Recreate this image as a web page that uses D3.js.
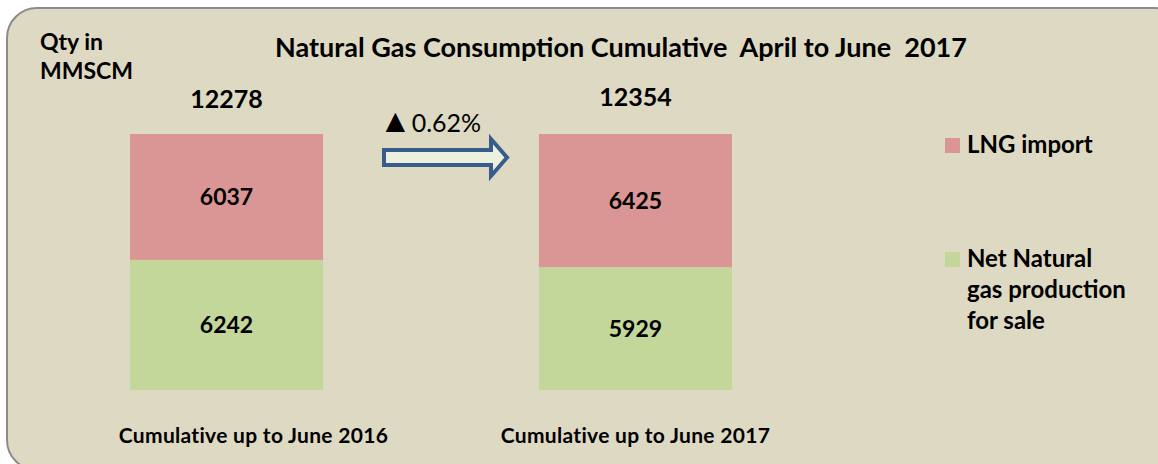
<!DOCTYPE html>
<html>
<head>
<meta charset="utf-8">
<script src="https://cdn.jsdelivr.net/npm/d3@7"></script>
<style>
  html, body { margin: 0; padding: 0; background: #fff; overflow: hidden; }
  svg text { font-family: Lato, "Open Sans", sans-serif; font-weight: bold; fill: #000; }
</style>
</head>
<body>
<svg id="chart" width="1158" height="464"></svg>
<script>
// data
const categories = ['Cumulative up to June 2016', 'Cumulative up to June 2017'];
const seriesNames = ['Net Natural gas production for sale', 'LNG import'];
const production = [6242, 5929];
const lngImport = [6037, 6425];
const totals = [12278, 12354];
const growthLabel = '0.62%';
const title = 'Natural Gas Consumption Cumulative  April to June  2017';
const colors = ['#c4d79b', '#da9694'];

const w = 1158, h = 464;
const svg = d3.select('#chart');

// panel background
svg.append('rect')
  .attr('x', 7).attr('y', 8)
  .attr('width', w + 20).attr('height', 462)
  .attr('rx', 30).attr('ry', 30)
  .attr('fill', '#ddd9c3')
  .attr('stroke', '#8c8c8c')
  .attr('stroke-width', 2);

// stack rows
const rows = categories.map((c, i) => ({ cat: c, prod: production[i], lng: lngImport[i] }));
const stack = d3.stack().keys(['prod', 'lng']).offset(d3.stackOffsetExpand);
const layers = stack(rows);

const x = d3.scaleBand().domain(categories).range([130, 732]).paddingInner(0.528).paddingOuter(0);
const y = d3.scaleLinear().domain([0, 1]).range([390, 134]);

const g = svg.append('g');
g.selectAll('g.layer')
  .data(layers)
  .enter().append('g')
  .attr('class', 'layer')
  .attr('fill', (d, i) => colors[i])
  .selectAll('rect')
  .data(d => d)
  .enter().append('rect')
  .attr('x', d => x(d.data.cat))
  .attr('y', d => y(d[1]))
  .attr('width', x.bandwidth())
  .attr('height', d => y(d[0]) - y(d[1]));

// segment labels
layers.forEach((layer, li) => {
  g.selectAll(null)
    .data(layer)
    .enter().append('text')
    .attr('x', d => x(d.data.cat) + x.bandwidth() / 2)
    .attr('y', d => (y(d[0]) + y(d[1])) / 2 + 8)
    .attr('text-anchor', 'middle')
    .style('font-size', '23px')
    .text(d => li === 0 ? d.data.prod : d.data.lng);
});

// totals
g.selectAll('text.total')
  .data(categories)
  .enter().append('text')
  .attr('class', 'total')
  .attr('x', d => x(d) + x.bandwidth() / 2)
  .attr('y', (d, i) => 108 - i * 2)
  .attr('text-anchor', 'middle')
  .style('font-size', '25px')
  .text((d, i) => totals[i]);

// category labels
g.selectAll('text.cat')
  .data(categories)
  .enter().append('text')
  .attr('class', 'cat')
  .attr('x', (d, i) => x(d) + x.bandwidth() / 2 + (i === 0 ? 27 : 0))
  .attr('y', 443)
  .attr('text-anchor', 'middle')
  .style('font-size', '21px')
  .style('letter-spacing', '0.3px')
  .text(d => d);

// title + unit
svg.append('text')
  .attr('x', 621).attr('y', 57)
  .attr('text-anchor', 'middle')
  .style('font-size', '27px')
  .style('white-space', 'pre')
  .text(title);

svg.append('text').attr('x', 40).attr('y', 50).style('font-size', '23px').text('Qty in');
svg.append('text').attr('x', 40).attr('y', 79).style('font-size', '23px').text('MMSCM');

// growth arrow
const ax0 = 384, ax1 = 507, ay = 157.5;
const arrow = d3.path();
arrow.moveTo(ax0, ay - 7.5);
arrow.lineTo(ax1 - 16, ay - 7.5);
arrow.lineTo(ax1 - 16, ay - 18.5);
arrow.lineTo(ax1, ay);
arrow.lineTo(ax1 - 16, ay + 18.5);
arrow.lineTo(ax1 - 16, ay + 7.5);
arrow.lineTo(ax0, ay + 7.5);
arrow.closePath();
svg.append('path')
  .attr('d', arrow.toString())
  .attr('fill', '#ebf1de')
  .attr('stroke', '#385d8a')
  .attr('stroke-width', 4)
  .attr('stroke-linejoin', 'miter');

const growth = svg.append('text')
  .attr('x', 379).attr('y', 132)
  .style('font-weight', 'normal');
growth.append('tspan').style('font-size', '33px').text('\u25B2');
growth.append('tspan').style('font-size', '25px').text(growthLabel);

// legend
const legendY = [153, 267];
const legendLines = [['LNG import'], ['Net Natural', 'gas production', 'for sale']];
const legendColors = [colors[1], colors[0]];
legendY.forEach((ly, i) => {
  svg.append('rect')
    .attr('x', 945).attr('y', ly - 15)
    .attr('width', 15).attr('height', 15)
    .attr('fill', legendColors[i]);
  legendLines[i].forEach((t, j) => {
    svg.append('text')
      .attr('x', 967).attr('y', ly + j * 31)
      .style('font-size', '24px')
      .text(t);
  });
});
</script>
</body>
</html>
